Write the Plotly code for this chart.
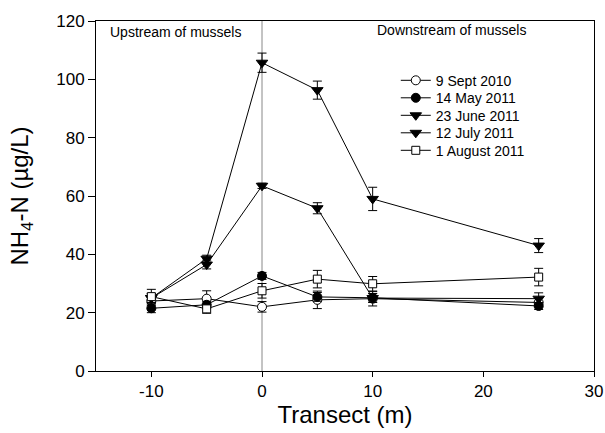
import plotly.graph_objects as go

transect = [-10, -5, 0, 5, 10, 25]

series_names = ["9 Sept 2010", "14 May 2011", "23 June 2011", "12 July 2011", "1 August 2011"]

sept2010 = [24.0, 24.8, 22.0, 24.4, 24.8, 23.5]
sept2010_err = [1.5, 2.7, 1.8, 3.0, 2.5, 1.5]

may2011 = [21.5, 22.7, 32.6, 25.4, 25.1, 22.3]
may2011_err = [1.5, 1.2, 1.2, 1.5, 1.5, 1.2]

june2011 = [25.0, 38.5, 105.7, 96.3, 59.0, 43.0]
june2011_err = [1.5, 1.2, 3.3, 3.1, 4.0, 2.4]

july2011 = [25.0, 36.5, 63.5, 55.8, 25.0, 24.8]
july2011_err = [1.5, 1.5, 0.9, 1.9, 1.5, 2.0]

aug2011 = [25.5, 21.3, 27.5, 31.5, 29.9, 32.2]
aug2011_err = [2.5, 1.5, 2.5, 3.0, 2.5, 3.0]

x_ticks = [-10, 0, 10, 20, 30]
x_ticklabels = ["-10", "0", "10", "20", "30"]
y_ticks = [0, 20, 40, 60, 80, 100, 120]

FONT = "Liberation Sans, Arial, sans-serif"

styles = [
    dict(symbol="circle", color="white", size=9),
    dict(symbol="circle", color="black", size=9),
    dict(symbol="triangle-down", color="black", size=10),
    dict(symbol="triangle-down", color="black", size=10),
    dict(symbol="square", color="white", size=8),
]
values = [sept2010, may2011, june2011, july2011, aug2011]
errors = [sept2010_err, may2011_err, june2011_err, july2011_err, aug2011_err]

legend_ids = ["legend", "legend2", "legend3", "legend4", "legend5"]
legend_px_y = [80.7, 98.2, 115.7, 133.2, 150.7]  # centres of legend rows (px from top)

fig = go.Figure()
for name, vals, errs, st, lid in zip(series_names, values, errors, styles, legend_ids):
    fig.add_trace(go.Scatter(
        x=transect, y=vals, name=name, mode="lines+markers",
        line=dict(color="black", width=1),
        marker=dict(symbol=st["symbol"], color=st["color"], size=st["size"],
                    line=dict(color="black", width=1)),
        error_y=dict(type="data", array=errs, visible=True, color="black",
                     thickness=1, width=4.5),
        legend=lid,
    ))

fig.add_shape(type="line", xref="x", yref="y", x0=0, x1=0, y0=0, y1=120,
              line=dict(color="#888888", width=1), layer="below")

fig.add_annotation(text="Upstream of mussels", xref="paper", yref="paper",
                   x=0.024, y=0.969, xanchor="left", yanchor="middle",
                   showarrow=False, font=dict(family=FONT, size=14, color="black"))
fig.add_annotation(text="Downstream of mussels", xref="paper", yref="paper",
                   x=0.56, y=0.975, xanchor="left", yanchor="middle",
                   showarrow=False, font=dict(family=FONT, size=14, color="black"))

plot_top, plot_bottom = 21, 371
legend_layout = {}
for lid, py in zip(legend_ids, legend_px_y):
    legend_layout[lid] = dict(
        x=0.602, y=(plot_bottom - py) / (plot_bottom - plot_top),
        xanchor="left", yanchor="middle",
        bgcolor="rgba(0,0,0,0)", font=dict(family=FONT, size=14, color="black"),
        itemwidth=30, tracegroupgap=0,
    )

fig.update_layout(
    width=605, height=433,
    margin=dict(l=96, r=11, t=21, b=62),
    paper_bgcolor="white", plot_bgcolor="white",
    font=dict(family=FONT, color="black"),
    showlegend=True,
    xaxis=dict(range=[-15, 30], tickvals=x_ticks, ticktext=x_ticklabels,
               ticks="outside", ticklen=5, automargin=False,
               tickcolor="black", showline=True, linecolor="black", linewidth=1,
               mirror=True, showgrid=False, zeroline=False,
               tickfont=dict(family=FONT, size=17),
               title=dict(text="Transect (m)", font=dict(family=FONT, size=24), standoff=2)),
    yaxis=dict(range=[0, 120], tickvals=y_ticks, ticks="outside", ticklen=7,
               automargin=False,
               tickcolor="black", showline=True, linecolor="black", linewidth=1,
               mirror=True, showgrid=False, zeroline=False,
               tickfont=dict(family=FONT, size=17),
               title=dict(text="NH<sub>4</sub>-N (µg/L)", font=dict(family=FONT, size=24), standoff=20)),
    **legend_layout,
)

fig.write_html("out.html")
